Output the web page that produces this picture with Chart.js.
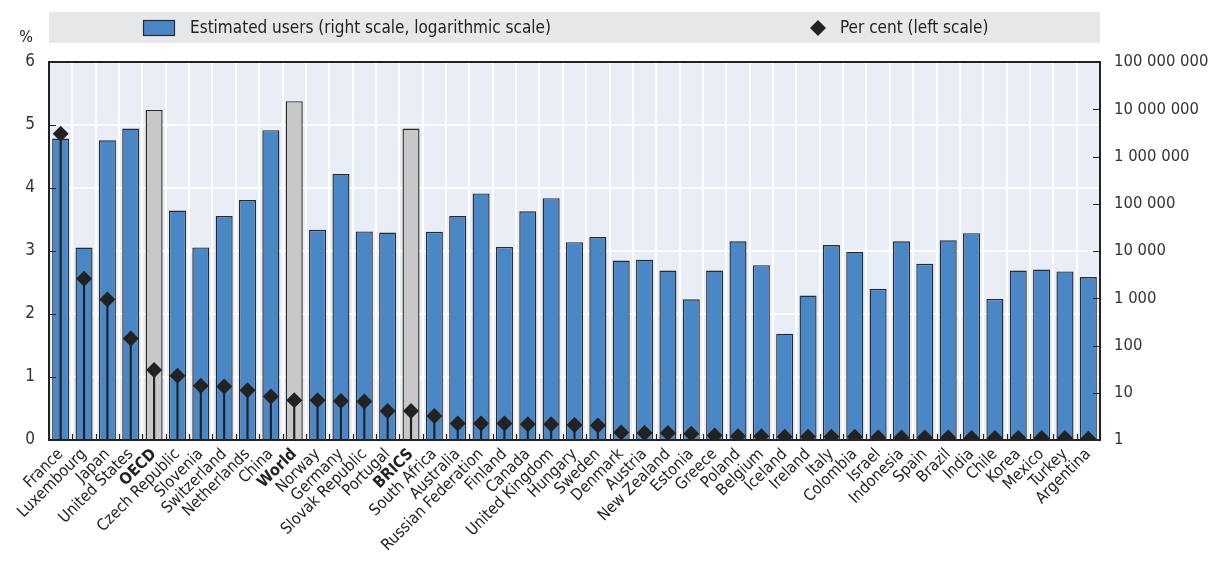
<!DOCTYPE html>
<html>
<head>
<meta charset="utf-8">
<script src="https://cdn.jsdelivr.net/npm/chart.js@4/dist/chart.umd.min.js"></script>
<style>
  html, body { margin: 0; padding: 0; background: #ffffff; }
  #wrap { width: 1214px; height: 565px; position: relative; }
</style>
</head>
<body>
<div id="wrap"><canvas id="c" width="1214" height="565"></canvas></div>
<script>
// Countries and aggregates, in display order
const categories = [
  'France', 'Luxembourg', 'Japan', 'United States', 'OECD', 'Czech Republic', 'Slovenia',
  'Switzerland', 'Netherlands', 'China', 'World', 'Norway', 'Germany', 'Slovak Republic',
  'Portugal', 'BRICS', 'South Africa', 'Australia', 'Russian Federation', 'Finland', 'Canada',
  'United Kingdom', 'Hungary', 'Sweden', 'Denmark', 'Austria', 'New Zealand', 'Estonia',
  'Greece', 'Poland', 'Belgium', 'Iceland', 'Ireland', 'Italy', 'Colombia', 'Israel',
  'Indonesia', 'Spain', 'Brazil', 'India', 'Chile', 'Korea', 'Mexico', 'Turkey', 'Argentina'
];

// Aggregates drawn in grey with bold labels
const aggregates = ['OECD', 'World', 'BRICS'];

// Estimated users (right scale, logarithmic)
const estimatedUsers = [
  2400000, 11800, 2200000, 3900000, 9700000, 72000, 11900,
  55000, 120000, 3600000, 14800000, 28000, 425000, 26000,
  24500, 3900000, 25500, 55000, 165000, 12200, 69000,
  131000, 15400, 19800, 6300, 6550, 3850, 950,
  3850, 16000, 5000, 178, 1140, 13400, 9700, 1580,
  16000, 5350, 16900, 23800, 970, 3850, 4050, 3700, 2800
];

// Per cent (left scale)
const perCent = [
  4.86, 2.56, 2.23, 1.61, 1.11, 1.02, 0.86,
  0.85, 0.79, 0.69, 0.63, 0.63, 0.62, 0.61,
  0.46, 0.46, 0.38, 0.26, 0.26, 0.26, 0.25,
  0.25, 0.24, 0.23, 0.12, 0.11, 0.11, 0.10,
  0.07, 0.06, 0.06, 0.05, 0.05, 0.05, 0.05, 0.04,
  0.04, 0.04, 0.04, 0.03, 0.03, 0.03, 0.03, 0.03, 0.02
];

// Axis ticks
const pctTicks = [0, 1, 2, 3, 4, 5, 6];
const userTicks = [1, 10, 100, 1000, 10000, 100000, 1000000, 10000000, 100000000];
const userTickLabels = ['1', '10', '100', '1 000', '10 000', '100 000', '1 000 000', '10 000 000', '100 000 000'];

const FONT = "'Liberation Sans Narrow', 'Arial Narrow', 'DejaVu Sans Condensed', sans-serif";
const BLUE = '#4a87c7';
const GREY = '#c8c8c9';
const INK = '#222222';
const PLOT_BG = '#e9edf5';

Chart.defaults.font.family = FONT;
Chart.defaults.color = INK;

const barColors = categories.map(c => aggregates.includes(c) ? GREY : BLUE);

// Background, frame, inward tick marks, legend band and unit label
const decorations = {
  id: 'decorations',
  beforeDraw(chart) {
    const { ctx, chartArea: a } = chart;
    ctx.save();
    ctx.fillStyle = PLOT_BG;
    ctx.fillRect(a.left, a.top, a.right - a.left, a.bottom - a.top);
    ctx.restore();
  },
  afterDatasetsDraw(chart) {
    const { ctx, chartArea: a, scales } = chart;
    ctx.save();
    ctx.strokeStyle = INK;
    ctx.lineWidth = 1.2;
    // short inward ticks on the value axes
    ctx.beginPath();
    scales.yPct.ticks.forEach(t => {
      const y = Math.round(scales.yPct.getPixelForValue(t.value)) + 0.5;
      ctx.moveTo(a.left, y); ctx.lineTo(a.left + 7, y);
    });
    scales.yUsers.ticks.forEach(t => {
      const y = Math.round(scales.yUsers.getPixelForValue(t.value)) + 0.5;
      ctx.moveTo(a.right, y); ctx.lineTo(a.right - 7, y);
    });
    // short ticks between categories on the bottom edge
    const xs = scales.x;
    for (let i = 0; i <= categories.length; i++) {
      const x = Math.round(xs.left + (xs.right - xs.left) * i / categories.length) + 0.5;
      ctx.moveTo(x, a.bottom); ctx.lineTo(x, a.bottom - 6);
    }
    ctx.stroke();
    // frame
    ctx.lineWidth = 2;
    ctx.strokeRect(a.left, a.top, a.right - a.left, a.bottom - a.top);
    ctx.restore();
  },
  afterDraw(chart) {
    const { ctx, chartArea: a } = chart;
    const ds = chart.data.datasets;
    ctx.save();
    // legend band
    ctx.fillStyle = '#e6e7e9';
    ctx.fillRect(a.left, 12, a.right - a.left, 31);
    ctx.font = '17px ' + FONT;
    ctx.textBaseline = 'middle';
    // bar key
    ctx.fillStyle = BLUE;
    ctx.fillRect(143.5, 20.5, 31, 15);
    ctx.strokeStyle = '#2a2a2a';
    ctx.lineWidth = 1.2;
    ctx.strokeRect(143.5, 20.5, 31, 15);
    ctx.fillStyle = INK;
    ctx.fillText(ds[0].label, 190, 28.5);
    // diamond key
    ctx.beginPath();
    ctx.moveTo(810, 28); ctx.lineTo(818, 20); ctx.lineTo(826, 28); ctx.lineTo(818, 36);
    ctx.closePath();
    ctx.fill();
    ctx.fillText(ds[2].label, 840, 28.5);
    // unit of the left scale
    ctx.font = '16px ' + FONT;
    ctx.textAlign = 'center';
    ctx.fillText('%', 26, 38);
    ctx.restore();
  }
};

new Chart(document.getElementById('c'), {
  data: {
    labels: categories,
    datasets: [
      {
        type: 'bar',
        label: 'Estimated users (right scale, logarithmic scale)',
        data: estimatedUsers,
        yAxisID: 'yUsers',
        backgroundColor: barColors,
        borderColor: '#2a2a2a',
        borderWidth: 1.4,
        grouped: false,
        categoryPercentage: 1,
        barPercentage: 0.73,
        order: 3
      },
      {
        type: 'bar',
        label: 'stem',
        data: perCent,
        yAxisID: 'yPct',
        backgroundColor: INK,
        borderWidth: 0,
        grouped: false,
        barThickness: 1.5,
        order: 2
      },
      {
        type: 'line',
        label: 'Per cent (left scale)',
        data: perCent,
        yAxisID: 'yPct',
        showLine: false,
        pointStyle: 'rectRot',
        pointRadius: 8,
        pointBackgroundColor: INK,
        pointBorderColor: INK,
        pointBorderWidth: 0,
        order: 1
      }
    ]
  },
  options: {
    responsive: false,
    animation: false,
    layout: { padding: { top: 62, left: 0, right: 0, bottom: 0 } },
    plugins: {
      legend: { display: false },
      tooltip: { enabled: false }
    },
    scales: {
      x: {
        type: 'category',
        offset: true,
        grid: { color: '#ffffff', lineWidth: 2, offset: true, drawTicks: false },
        border: { display: false },
        ticks: {
          autoSkip: false,
          minRotation: 45,
          maxRotation: 45,
          padding: 5,
          color: INK,
          font: (ctx) => ({
            size: 16,
            weight: aggregates.includes(categories[ctx.index]) ? 'bold' : 'normal'
          })
        },
        afterFit: (s) => { s.height = 125; }
      },
      yPct: {
        type: 'linear',
        position: 'left',
        min: 0,
        max: 6,
        afterBuildTicks: (s) => { s.ticks = pctTicks.map(v => ({ value: v })); },
        grid: { color: '#ffffff', lineWidth: 2, drawTicks: false },
        border: { display: false },
        ticks: { padding: 14, color: '#333', font: { size: 17 } },
        afterFit: (s) => { s.width = 49; }
      },
      yUsers: {
        type: 'logarithmic',
        position: 'right',
        min: 1,
        max: 100000000,
        afterBuildTicks: (s) => { s.ticks = userTicks.map(v => ({ value: v })); },
        grid: { drawOnChartArea: false, drawTicks: false },
        border: { display: false },
        ticks: {
          padding: 14,
          color: '#333',
          font: { size: 16.5 },
          callback: (v, i) => userTickLabels[i]
        },
        afterFit: (s) => { s.width = 114; }
      }
    }
  },
  plugins: [decorations]
});
</script>
</body>
</html>
